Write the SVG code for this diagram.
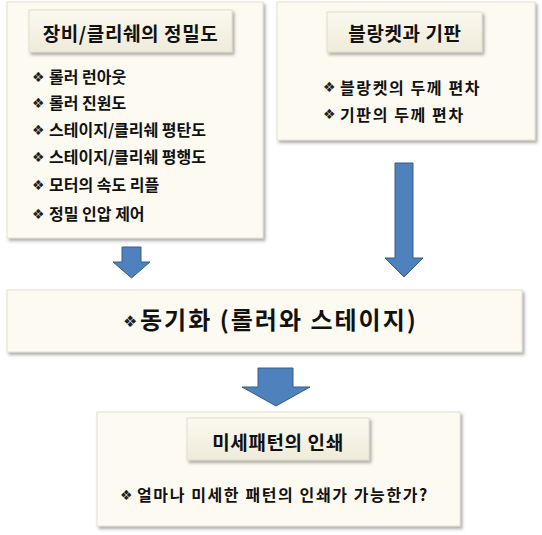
<svg xmlns="http://www.w3.org/2000/svg" width="542" height="535" viewBox="0 0 542 535">
<defs>
<filter id="sh" x="-10%" y="-10%" width="120%" height="130%">
<feDropShadow dx="2" dy="2.5" stdDeviation="1.5" flood-color="#6b6b6b" flood-opacity="0.55"/>
</filter>
<linearGradient id="tg" x1="0" y1="0" x2="0" y2="1">
<stop offset="0" stop-color="#FBF9F0"/>
<stop offset="1" stop-color="#EFEBDA"/>
</linearGradient>
<style>
.box{fill:#FDFBF1;stroke:#E4E0CF;stroke-width:1;filter:url(#sh)}
.tbox{fill:url(#tg);stroke:#E2DECB;stroke-width:1;filter:url(#sh)}
.t{font-family:"Noto Sans CJK KR","DejaVu Sans",sans-serif;font-weight:700;fill:#111}
.title{font-size:19px;text-anchor:middle;letter-spacing:0.6px}
.item{font-size:16px}
.wide{letter-spacing:1.6px}
.dia{font-family:"DejaVu Sans",sans-serif;font-size:14px;fill:#222}
.arr{fill:#4F81BD;stroke:#385D8A;stroke-width:1}
</style>
</defs>
<rect width="542" height="535" fill="#ffffff"/>

<g id="node-equipment">
<rect class="box" x="7" y="2" width="256" height="236"/>
<rect class="tbox" x="29" y="10" width="203" height="42"/>
<text class="t title" x="130.5" y="40.5">장비/클리쉐의 정밀도</text>
<text class="dia" x="32" y="82">❖</text><text class="t item" x="49" y="83">롤러 런아웃</text>
<text class="dia" x="32" y="108">❖</text><text class="t item" x="49" y="109">롤러 진원도</text>
<text class="dia" x="32" y="135">❖</text><text class="t item" x="49" y="136">스테이지/클리쉐 평탄도</text>
<text class="dia" x="32" y="162">❖</text><text class="t item" x="49" y="163">스테이지/클리쉐 평행도</text>
<text class="dia" x="32" y="190">❖</text><text class="t item" x="49" y="191">모터의 속도 리플</text>
<text class="dia" x="32" y="219">❖</text><text class="t item" x="49" y="220">정밀 인압 제어</text>
</g>

<g id="node-blanket">
<rect class="box" x="277" y="2" width="258" height="138"/>
<rect class="tbox" x="327" y="12" width="155" height="40"/>
<text class="t title" x="405" y="41">블랑켓과 기판</text>
<text class="dia" x="323" y="92">❖</text><text class="t item wide" x="340" y="93.5">블랑켓의 두께 편차</text>
<text class="dia" x="323" y="119">❖</text><text class="t item wide" x="340" y="120.5">기판의 두께 편차</text>
</g>

<g id="node-sync">
<rect class="box" x="7" y="290" width="515" height="62"/>
<text class="dia" x="123" y="327" style="font-size:16px">❖</text>
<text class="t" x="140" y="329" style="font-size:24px;letter-spacing:2px">동기화 (롤러와 스테이지)</text>
</g>

<g id="node-pattern">
<rect class="box" x="97" y="412" width="363" height="114"/>
<rect class="tbox" x="187" y="418" width="182" height="42"/>
<text class="t title" x="278" y="450">미세패턴의 인쇄</text>
<text class="dia" x="120" y="500">❖</text><text class="t item wide" x="137" y="501">얼마나 미세한 패턴의 인쇄가 가능한가?</text>
</g>

<g id="connectors">
<polygon class="arr" points="122,247 141,247 141,262 150,262 131.5,278 113,262 122,262"/>
<polygon class="arr" points="395,163 413,163 413,258 423,258 404,277 385,258 395,258"/>
<polygon class="arr" points="258,368 293,368 293,387 310,387 276,406 242,387 258,387"/>
</g>
</svg>
